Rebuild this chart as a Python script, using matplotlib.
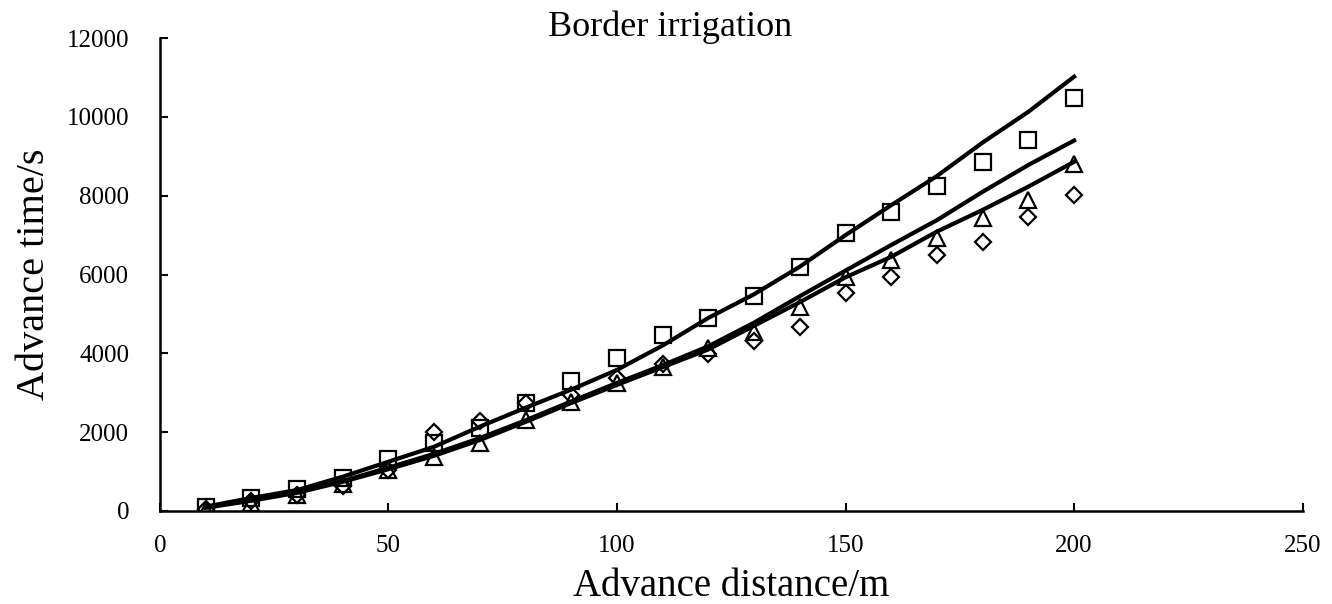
import numpy as np
import matplotlib
matplotlib.use("Agg")
import matplotlib.pyplot as plt

plt.rcParams['font.family'] = ['Liberation Serif', 'DejaVu Serif']

# advance distance (m)
distance = [10, 20, 30, 40, 50, 60, 70, 80, 90, 100,
            110, 120, 130, 140, 150, 160, 170, 180, 190, 200]

# measured advance time (s)
obs_square = [100, 330, 560, 840, 1320, 1720, 2100, 2740, 3300, 3880,
              4460, 4900, 5450, 6190, 7050, 7580, 8240, 8850, 9410, 10480]
obs_triangle = [30, 200, 400, 680, 1040, 1370, 1720, 2300, 2770, 3250,
                3660, 4130, 4550, 5180, 5940, 6370, 6930, 7430, 7890, 8800]
obs_diamond = [40, 250, 400, 640, 1040, 2010, 2290, 2750, 2940, 3380,
               3730, 3980, 4320, 4670, 5530, 5940, 6490, 6830, 7470, 8020]

# simulated advance time (s)
sim_top = [110, 330, 530, 870, 1250, 1630, 2140, 2620, 3080, 3580,
           4200, 4900, 5500, 6200, 7000, 7760, 8500, 9350, 10130, 11020]
sim_mid = [100, 280, 480, 760, 1100, 1450, 1850, 2300, 2780, 3250,
           3700, 4180, 4780, 5450, 6100, 6750, 7380, 8100, 8780, 9400]
sim_low = [80, 260, 460, 740, 1060, 1400, 1800, 2260, 2740, 3200,
           3650, 4100, 4700, 5300, 5930, 6450, 7090, 7640, 8230, 8860]

fig = plt.figure(figsize=(13.32, 6.04), dpi=100)
ax = fig.add_axes([0.120, 0.154, 0.858, 0.783])

for sim in (sim_top, sim_mid, sim_low):
    ax.plot(distance, sim, color='black', lw=3, zorder=3)

mk = dict(linestyle='none', markerfacecolor='none', markeredgecolor='black',
          markeredgewidth=1.6, zorder=2)
ax.plot(distance, obs_square, marker='s', markersize=12, **mk)
ax.plot(distance, obs_triangle, marker='^', markersize=11, **mk)
ax.plot(distance, obs_diamond, marker='D', markersize=8, **mk)

ax.set_xlim(0, 250)
ax.set_ylim(0, 12000)
ax.set_xticks(np.arange(0, 251, 50))
ax.set_yticks(np.arange(0, 12001, 2000))

for side in ('top', 'right'):
    ax.spines[side].set_visible(False)
for side in ('left', 'bottom'):
    ax.spines[side].set_linewidth(1.8)

ax.tick_params(axis='both', direction='in', length=6, width=1.5, labelsize=18)
ax.tick_params(axis='x', pad=17)
ax.tick_params(axis='y', pad=22)

ax.set_xlabel("Advance distance/m", fontsize=28, labelpad=8)
ax.set_ylabel("Advance time/s", fontsize=29, labelpad=10)
fig.text(0.503, 0.955, "Border irrigation", fontsize=26, ha='center', va='center')

fig.savefig("out.png", dpi=100)
